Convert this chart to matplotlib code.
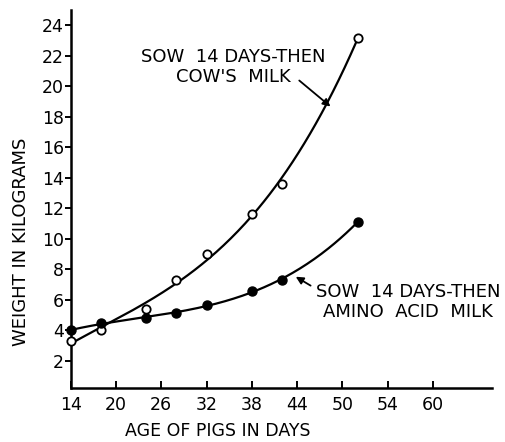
import matplotlib
matplotlib.use("Agg")
import matplotlib.pyplot as plt
import numpy as np

# ages (days) and weights (kg)
days = [14, 18, 24, 28, 32, 38, 42, 52]
cow_milk = [3.3, 4.0, 5.4, 7.3, 9.0, 11.6, 13.6, 23.2]
amino_milk = [4.0, 4.45, 4.8, 5.15, 5.65, 6.55, 7.3, 11.1]

x_ticks = [14, 20, 26, 32, 38, 44, 50, 56, 62]
x_labels = ["14", "20", "26", "32", "38", "44", "50", "54", "60"]
y_ticks = list(range(2, 25, 2))

plt.rcParams["font.family"] = "DejaVu Sans"

fig = plt.figure(figsize=(5.05, 4.42), dpi=100)
ax = fig.add_axes([0.14, 0.122, 0.834, 0.855])

# smooth curves fitted through the points
xs = np.linspace(days[0], days[-1], 200)
cow_fit = np.polyfit(days, cow_milk, 3)
amino_fit = np.polyfit(days, amino_milk, 3)
ax.plot(xs, np.polyval(cow_fit, xs), color="black", lw=1.6)
ax.plot(xs, np.polyval(amino_fit, xs), color="black", lw=1.6)

ax.plot(days, cow_milk, "o", mfc="white", mec="black", mew=1.3, ms=6,
        clip_on=False, zorder=3)
ax.plot(days, amino_milk, "o", mfc="black", mec="black", ms=6.5,
        clip_on=False, zorder=3)

ax.set_xlim(14, 69.8)
ax.set_ylim(0.2, 25)
ax.set_xticks(x_ticks)
ax.set_xticklabels(x_labels)
ax.set_yticks(y_ticks)
ax.tick_params(axis="x", direction="in", length=5, width=1.4, labelsize=12.5, pad=6)
ax.tick_params(axis="y", direction="out", length=4, width=1.4, labelsize=12.5, pad=1)

for s in ["top", "right"]:
    ax.spines[s].set_visible(False)
for s in ["left", "bottom"]:
    ax.spines[s].set_linewidth(1.8)

ax.set_xlabel("AGE OF PIGS IN DAYS", fontsize=12.5)
ax.xaxis.set_label_coords(0.348, -0.09)
ax.set_ylabel("WEIGHT IN KILOGRAMS", fontsize=13)
ax.yaxis.set_label_coords(-0.097, 0.386)

ax.text(35.5, 21.28, "SOW  14 DAYS-THEN\nCOW'S  MILK", ha="center", va="center",
        fontsize=13, linespacing=1.15)
ax.annotate("", xy=(48.7, 18.56), xytext=(44.0, 20.5),
            arrowprops=dict(arrowstyle="-|>", color="black", lw=1.3, mutation_scale=11))

ax.text(58.74, 5.85, "SOW  14 DAYS-THEN\nAMINO  ACID  MILK", ha="center", va="center",
        fontsize=13, linespacing=1.15, clip_on=False)
ax.annotate("", xy=(43.5, 7.6), xytext=(46.1, 6.83),
            arrowprops=dict(arrowstyle="-|>", color="black", lw=1.3, mutation_scale=11))

fig.savefig("out.png", dpi=100)
